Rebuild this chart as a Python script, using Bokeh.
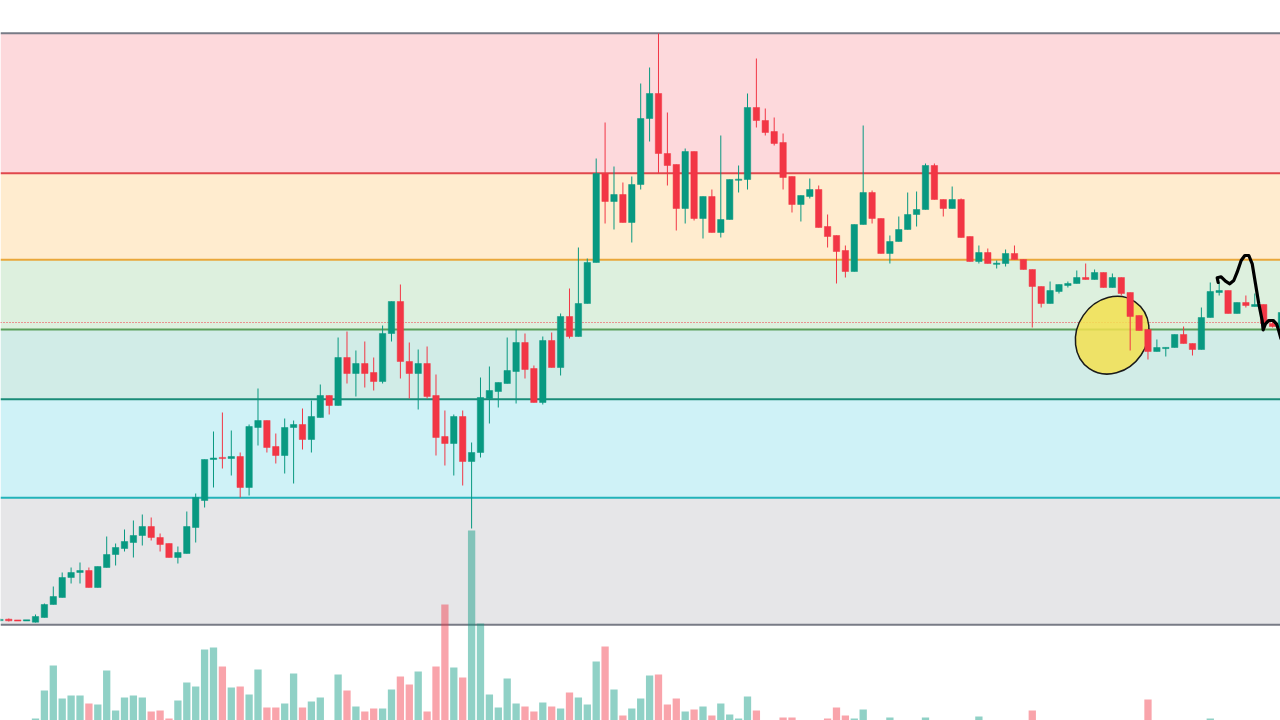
from bokeh.plotting import figure
from bokeh.models import Range1d, BoxAnnotation, Span, ColumnDataSource
from bokeh.embed import file_html
from bokeh.resources import INLINE

# ---------------- data ----------------
opens = [
    10.0, 10.13, 10.02, 10.0, 9.83, 10.3, 11.6, 12.3, 14.3, 14.8,
    15.0, 13.3, 15.3, 16.6, 17.2, 17.8, 18.5, 19.4, 18.3, 17.7,
    16.3, 16.7, 19.3, 22.0, 26.1, 26.3, 26.2, 26.4, 23.3, 29.3,
    30.0, 27.4, 26.5, 29.3, 29.6, 28.1, 30.3, 32.5, 31.5, 36.3,
    34.7, 35.7, 34.8, 33.9, 38.7, 41.9, 35.9, 34.7, 35.7, 32.5,
    28.4, 27.7, 30.4, 25.9, 26.8, 32.2, 32.9, 33.7, 34.9, 37.8,
    35.2, 31.8, 38.0, 35.3, 40.4, 38.4, 41.7, 45.8, 54.7, 51.9,
    52.6, 49.8, 53.6, 60.2, 62.7, 56.7, 55.6, 51.2, 56.9, 50.2,
    52.4, 48.8, 50.1, 54.05, 54.1, 61.3, 60.0, 58.9, 57.8, 54.4,
    51.6, 52.4, 53.1, 49.4, 48.5, 47.0, 44.9, 49.6, 52.8, 50.2,
    46.7, 47.9, 49.1, 50.6, 51.1, 55.5, 52.1, 51.2, 52.1, 48.4,
    45.9, 46.8, 45.65, 45.7, 46.7, 46.1, 45.1, 43.4, 41.7, 42.9,
    43.5, 43.7, 44.3, 44.1, 44.8, 43.3, 44.3, 42.8, 40.5, 39.1,
    36.9, 37.2, 37.3, 38.6, 37.7, 37.1, 40.3, 42.8, 43.0, 40.7,
    41.8, 41.4, 41.6, 39.7, 39.3,
]
highs = [
    10.2, 10.2, 10.05, 10.05, 10.6, 11.7, 13.4, 14.8, 15.3, 15.8,
    15.3, 15.4, 18.4, 17.7, 19.1, 20.0, 20.6, 20.3, 18.7, 17.7,
    17.4, 20.9, 22.7, 26.1, 28.9, 30.8, 29.0, 26.8, 29.6, 33.2,
    30.0, 28.7, 30.2, 30.0, 31.2, 32.0, 33.6, 32.5, 38.3, 38.9,
    37.0, 37.9, 36.3, 39.5, 41.9, 43.6, 37.8, 37.1, 37.4, 34.6,
    31.0, 30.6, 31.0, 27.8, 34.3, 35.4, 33.8, 38.3, 39.1, 38.7,
    35.5, 38.4, 38.8, 40.7, 43.2, 47.3, 46.2, 56.2, 59.8, 55.4,
    53.8, 54.4, 63.7, 65.3, 68.7, 60.8, 55.6, 57.2, 56.9, 52.4,
    53.1, 58.5, 54.1, 55.5, 62.7, 66.2, 61.2, 60.3, 58.7, 54.4,
    52.5, 54.2, 53.5, 50.6, 48.5, 47.5, 49.6, 59.5, 53.0, 50.2,
    48.5, 50.4, 52.8, 52.9, 55.7, 55.7, 52.1, 53.4, 52.2, 48.4,
    47.5, 47.2, 46.0, 47.1, 47.5, 46.1, 45.1, 43.4, 43.9, 43.6,
    43.9, 45.0, 45.7, 45.1, 44.8, 44.7, 44.3, 42.8, 40.5, 39.1,
    38.1, 37.3, 38.6, 39.4, 37.7, 41.3, 43.8, 43.8, 43.0, 41.8,
    42.5, 42.7, 41.6, 40.1, 40.9,
]
lows = [
    9.9, 9.9, 9.95, 9.97, 9.8, 10.3, 11.6, 12.3, 13.7, 13.7,
    13.3, 13.3, 15.3, 15.5, 16.9, 16.3, 17.5, 18.0, 16.9, 16.3,
    15.7, 16.7, 17.8, 21.3, 23.3, 25.2, 24.5, 22.3, 22.5, 27.5,
    26.8, 25.7, 24.7, 23.7, 27.1, 26.8, 30.3, 30.6, 31.5, 33.7,
    32.4, 33.3, 33.0, 33.7, 37.9, 34.2, 32.2, 31.1, 32.2, 26.5,
    25.5, 24.5, 23.5, 19.2, 26.3, 29.7, 31.3, 33.7, 31.7, 34.2,
    31.8, 31.6, 35.3, 34.5, 38.2, 38.4, 41.7, 45.8, 49.7, 49.1,
    49.8, 47.8, 53.1, 57.9, 54.7, 53.5, 49.0, 49.7, 50.0, 48.2,
    48.8, 48.3, 50.1, 52.8, 53.1, 59.3, 58.5, 57.5, 53.1, 50.8,
    49.9, 52.2, 49.3, 47.3, 43.7, 44.3, 44.9, 49.6, 49.7, 46.7,
    45.7, 47.9, 49.1, 49.4, 51.1, 52.1, 50.4, 51.2, 48.3, 45.9,
    45.7, 45.7, 45.2, 45.4, 46.1, 45.1, 39.3, 41.3, 41.7, 42.7,
    43.3, 43.7, 44.1, 44.1, 43.3, 43.3, 42.5, 37.0, 39.0, 36.1,
    36.9, 36.4, 37.3, 37.7, 36.5, 37.1, 40.3, 42.5, 40.7, 40.7,
    41.3, 41.4, 39.6, 39.3, 39.2,
]
closes = [
    10.1, 9.97, 9.98, 10.02, 10.4, 11.6, 12.4, 14.3, 14.8, 15.0,
    13.3, 15.4, 16.6, 17.3, 17.9, 18.5, 19.4, 18.3, 17.6, 16.3,
    16.8, 19.4, 22.3, 26.1, 26.25, 26.2, 26.4, 23.3, 29.4, 30.0,
    27.3, 26.5, 29.3, 29.6, 28.1, 30.4, 32.5, 31.5, 36.3, 34.7,
    35.7, 34.7, 33.9, 38.7, 41.9, 35.9, 34.7, 35.7, 32.4, 28.3,
    27.7, 30.4, 25.9, 26.8, 32.3, 33.0, 33.8, 35.0, 37.8, 35.1,
    31.8, 38.0, 35.3, 40.4, 38.4, 41.7, 45.8, 54.7, 51.9, 52.6,
    49.8, 53.6, 60.2, 62.7, 56.7, 55.5, 51.2, 56.9, 50.2, 52.4,
    48.8, 50.1, 54.1, 54.1, 61.3, 60.0, 58.8, 57.7, 54.3, 51.6,
    52.5, 53.1, 49.3, 48.4, 46.9, 44.9, 49.6, 52.8, 50.2, 46.7,
    47.9, 49.1, 50.6, 51.1, 55.5, 52.1, 51.2, 52.1, 48.3, 45.9,
    46.8, 45.7, 45.7, 46.7, 46.1, 45.1, 43.4, 41.7, 43.0, 43.6,
    43.7, 44.3, 44.1, 44.8, 43.3, 44.3, 42.7, 40.4, 39.0, 36.9,
    37.3, 37.3, 38.6, 37.7, 37.1, 40.3, 42.9, 43.0, 40.7, 41.8,
    41.5, 41.6, 39.7, 39.4, 40.8,
]
volumes = [
    0, 0, 0, 0, 2, 30, 55, 22, 25, 25,
    17, 16, 50, 10, 23, 25, 23, 9, 10, 2,
    20, 38, 34, 71, 73, 54, 33, 34, 26, 51,
    13, 13, 17, 47, 13, 19, 23, 0, 46, 30,
    14, 9, 12, 12, 31, 44, 36, 49, 9, 54,
    116, 53, 43, 190, 97, 26, 13, 42, 17, 14,
    9, 18, 14, 12, 28, 23, 16, 59, 74, 31,
    5, 12, 22, 45, 46, 16, 22, 9, 11, 14,
    5, 17, 6, 2, 24, 10, 0, 0, 3, 3,
    0, 0, 0, 2, 13, 5, 2, 11, 0, 0,
    3, 0, 0, 0, 3, 0, 0, 0, 0, 0,
    4, 0, 0, 0, 0, 0, 10, 0, 0, 0,
    0, 0, 0, 0, 0, 0, 0, 0, 0, 21,
    0, 0, 0, 0, 0, 0, 2, 0, 0, 0,
    0, 0, 0, 0, 0,
]

# Fibonacci levels (price) from top to bottom, with their colours
fib_levels = [68.73, 54.73, 46.07, 39.1, 32.12, 22.27, 9.57]
fib_fill = ["#787b86", "#f23645", "#ff9800", "#4caf50", "#089981", "#00bcd4", "#787b86"]
fib_line = ["#787b86", "#e0474c", "#e9a73a", "#5a9e5b", "#1a8c78", "#22b3ba", "#787b86"]
dotted_level = 39.8

# annotations: hand-drawn ellipse and sketch (bar index, price)
ellipse_center = (124.98, 38.53)
sketch_x = [136.89, 136.78, 137.22, 137.71, 138.19, 138.64, 139.02, 139.47, 139.88, 140.33,
            140.71, 141.08, 141.45, 141.83, 141.94, 142.20, 142.57, 143.07, 143.44, 143.69, 143.94]
sketch_y = [43.80, 44.27, 44.37, 43.93, 43.67, 44.00, 44.83, 46.00, 46.50, 46.50,
            45.67, 43.67, 41.67, 40.00, 39.07, 39.67, 40.00, 40.00, 39.67, 39.00, 38.20]

# ---------------- figure ----------------
UP = "#089981"
DOWN = "#f23645"

p = figure(width=1280, height=720, x_range=Range1d(0.067, 143.89), y_range=Range1d(0, 72),
           toolbar_location=None, output_backend="svg", min_border=0,
           x_axis_location=None, y_axis_location=None, outline_line_color=None,
           background_fill_color="white", border_fill_color="white")
p.grid.visible = False
p.extra_y_ranges = {"vol": Range1d(0, 720)}

# bands between consecutive levels, coloured by the lower level's colour
for k in range(len(fib_levels) - 1):
    p.add_layout(BoxAnnotation(top=fib_levels[k], bottom=fib_levels[k + 1],
                               fill_color=fib_fill[k + 1], fill_alpha=0.19,
                               line_color=None, level="underlay"))
for lvl, col in zip(fib_levels, fib_line):
    p.add_layout(Span(location=lvl, dimension="width", line_color=col,
                      line_width=2, level="underlay"))
p.add_layout(Span(location=dotted_level, dimension="width", line_color="#f23645",
                  line_width=1, line_dash="1 2", level="underlay"))

idx = list(range(len(opens)))
is_up = [c >= o for o, c in zip(opens, closes)]
col = [UP if u else DOWN for u in is_up]
body_top, body_bot = [], []
for o, c in zip(opens, closes):
    t, b = max(o, c), min(o, c)
    if t - b < 0.12:
        m = (t + b) / 2
        t, b = m + 0.06, m - 0.06
    body_top.append(t)
    body_bot.append(b)

src = ColumnDataSource(dict(x=idx, o=opens, h=highs, l=lows, c=closes, v=volumes,
                            col=col, top=body_top, bot=body_bot))

# volume
p.vbar(x="x", width=0.82, top="v", bottom=0, source=src, y_range_name="vol",
       fill_color="col", fill_alpha=0.45, line_color=None)

# ellipse highlight
p.ellipse(x=[ellipse_center[0]], y=[ellipse_center[1]], width=70, height=81,
          width_units="screen", height_units="screen", angle=-0.6,
          fill_color="#f3e050", fill_alpha=0.85, line_color="#1a1a1a", line_width=1.5)

# candles
p.segment(x0="x", y0="l", x1="x", y1="h", source=src, line_color="col", line_width=1)
p.vbar(x="x", width=0.72, top="top", bottom="bot", source=src,
       fill_color="col", line_color="col", line_width=0.5)

# hand sketch
p.line(sketch_x, sketch_y, line_color="#000000", line_width=3.2,
       line_join="round", line_cap="round")

open("out.html", "w").write(file_html(p, INLINE, "Chart"))
